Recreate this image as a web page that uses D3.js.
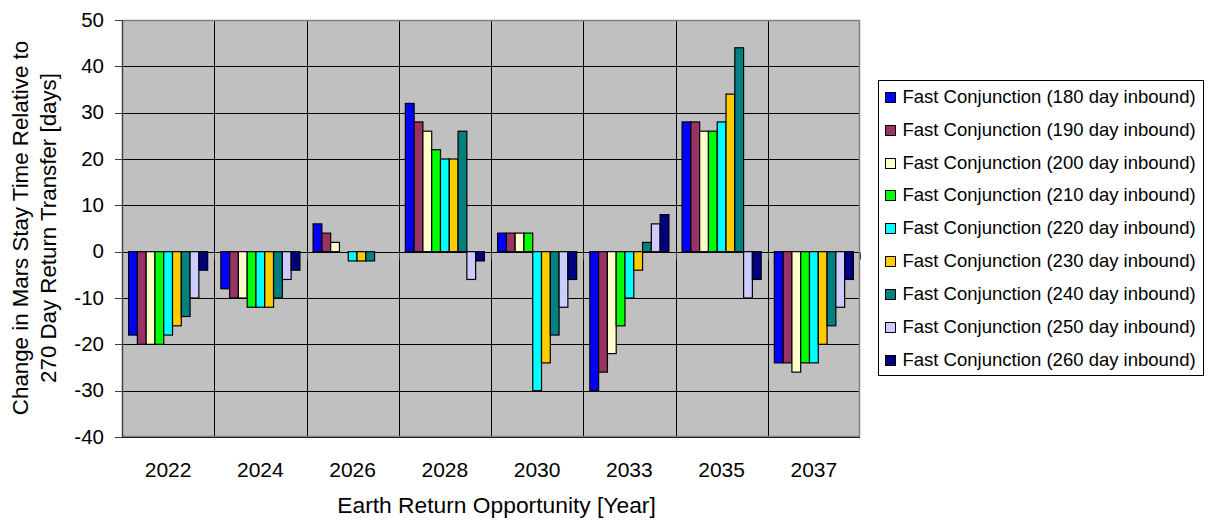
<!DOCTYPE html>
<html>
<head>
<meta charset="utf-8">
<script src="https://cdn.jsdelivr.net/npm/d3@7"></script>
<style>
  html, body { margin: 0; padding: 0; background: #fff; }
  svg { display: block; }
  text { font-family: "Liberation Sans", Arial, sans-serif; fill: #000; }
</style>
</head>
<body>
<svg id="chart" width="1209" height="525"></svg>
<script>
const categories = ["2022", "2024", "2026", "2028", "2030", "2033", "2035", "2037"];
const seriesNames = [
  "Fast Conjunction (180 day inbound)",
  "Fast Conjunction (190 day inbound)",
  "Fast Conjunction (200 day inbound)",
  "Fast Conjunction (210 day inbound)",
  "Fast Conjunction (220 day inbound)",
  "Fast Conjunction (230 day inbound)",
  "Fast Conjunction (240 day inbound)",
  "Fast Conjunction (250 day inbound)",
  "Fast Conjunction (260 day inbound)"
];
const v180 = [-18, -8, 6, 32, 4, -30, 28, -24];
const v190 = [-20, -10, 4, 28, 4, -26, 28, -24];
const v200 = [-20, -10, 2, 26, 4, -22, 26, -26];
const v210 = [-20, -12, 0, 22, 4, -16, 26, -24];
const v220 = [-18, -12, -2, 20, -30, -10, 28, -24];
const v230 = [-16, -12, -2, 20, -24, -4, 34, -20];
const v240 = [-14, -10, -2, 26, -18, 2, 44, -16];
const v250 = [-10, -6, 0, -6, -12, 6, -10, -12];
const v260 = [-4, -4, 0, -2, -6, 8, -6, -6];
const yTicks = [-40, -30, -20, -10, 0, 10, 20, 30, 40, 50];
const colors = ["#0000FF", "#993366", "#FFFFCC", "#00FF00", "#00FFFF", "#FFCC00", "#008080", "#CCCCFF", "#000080"];
const yTitle = ["Change in Mars Stay Time Relative to", "270 Day Return Transfer [days]"];
const xTitle = "Earth Return Opportunity [Year]";

const seriesValues = [v180, v190, v200, v210, v220, v230, v240, v250, v260];

const svg = d3.select("#chart");
const plot = { left: 122, right: 860, top: 20, bottom: 437 };

const x0 = d3.scaleBand().domain(categories).range([plot.left, plot.right]).padding(0);
const x1 = d3.scaleBand().domain(d3.range(seriesNames.length)).range([0, x0.bandwidth()])
  .paddingInner(0).paddingOuter(0.75);
const y = d3.scaleLinear().domain([-40, 50]).range([plot.bottom, plot.top]);

// plot background
svg.append("rect")
  .attr("x", plot.left).attr("y", plot.top)
  .attr("width", plot.right - plot.left).attr("height", plot.bottom - plot.top)
  .attr("fill", "#C0C0C0");

// horizontal gridlines
svg.append("g").selectAll("line").data(yTicks).join("line")
  .attr("x1", plot.left).attr("x2", plot.right)
  .attr("y1", d => Math.round(y(d)) + 0.5).attr("y2", d => Math.round(y(d)) + 0.5)
  .attr("stroke", "#000").attr("stroke-width", 1);

// vertical gridlines at category boundaries
const bounds = categories.slice(1).map(c => x0(c));
svg.append("g").selectAll("line").data(bounds).join("line")
  .attr("x1", d => Math.round(d) + 0.5).attr("x2", d => Math.round(d) + 0.5)
  .attr("y1", plot.top).attr("y2", plot.bottom)
  .attr("stroke", "#000").attr("stroke-width", 1);

// plot border
svg.append("rect")
  .attr("x", plot.left + 0.5).attr("y", plot.top + 0.5)
  .attr("width", plot.right - plot.left - 1).attr("height", plot.bottom - plot.top - 1)
  .attr("fill", "none").attr("stroke", "#808080").attr("stroke-width", 1.5);

// bars
const barData = [];
categories.forEach((c, ci) => {
  seriesValues.forEach((vals, si) => {
    if (vals[ci] !== 0) barData.push({ c, si, v: vals[ci] });
  });
});
svg.append("g").selectAll("rect").data(barData).join("rect")
  .attr("x", d => x0(d.c) + x1(d.si))
  .attr("width", x1.bandwidth())
  .attr("y", d => Math.min(y(0), y(d.v)))
  .attr("height", d => Math.abs(y(d.v) - y(0)))
  .attr("fill", d => colors[d.si])
  .attr("stroke", "#000").attr("stroke-width", 1.2);

// x axis at zero with tick marks at category boundaries
const zeroY = Math.round(y(0)) + 0.5;
const xTickPos = categories.map(c => x0(c)).concat([x0(categories[categories.length - 1]) + x0.bandwidth()]);
svg.append("g").selectAll("line").data(xTickPos).join("line")
  .attr("x1", d => Math.round(d) + 0.5).attr("x2", d => Math.round(d) + 0.5)
  .attr("y1", zeroY).attr("y2", zeroY + 7)
  .attr("stroke", "#404040").attr("stroke-width", 1);

// y axis line + ticks
svg.append("line")
  .attr("x1", plot.left + 0.5).attr("x2", plot.left + 0.5)
  .attr("y1", plot.top).attr("y2", plot.bottom)
  .attr("stroke", "#404040").attr("stroke-width", 1.2);
svg.append("g").selectAll("line").data(yTicks).join("line")
  .attr("x1", plot.left - 7).attr("x2", plot.left)
  .attr("y1", d => Math.round(y(d)) + 0.5).attr("y2", d => Math.round(y(d)) + 0.5)
  .attr("stroke", "#404040").attr("stroke-width", 1);
svg.append("g").selectAll("text").data(yTicks).join("text")
  .attr("x", 104).attr("y", d => y(d))
  .attr("dy", "0.33em")
  .attr("text-anchor", "end")
  .style("font-size", "20.5px")
  .text(d => d);

// x labels
svg.append("g").selectAll("text").data(categories).join("text")
  .attr("x", d => x0(d) + x0.bandwidth() / 2)
  .attr("y", 476.5)
  .attr("text-anchor", "middle")
  .style("font-size", "21px")
  .text(d => d);

// axis titles
svg.append("text")
  .attr("x", 496.5).attr("y", 513)
  .attr("text-anchor", "middle")
  .style("font-size", "22.8px")
  .text(xTitle);

svg.append("g").selectAll("text").data(yTitle).join("text")
  .attr("transform", (d, i) => `translate(${i === 0 ? 28 : 56},228) rotate(-90)`)
  .attr("text-anchor", "middle")
  .style("font-size", "22.3px")
  .text(d => d);

// legend
const legend = svg.append("g");
legend.append("rect")
  .attr("x", 878.5).attr("y", 80.5)
  .attr("width", 325).attr("height", 295)
  .attr("fill", "#fff").attr("stroke", "#000").attr("stroke-width", 1);
const rowY = d3.scaleLinear().domain([0, seriesNames.length - 1]).range([97.5, 360]);
const rows = legend.selectAll("g.row").data(seriesNames).join("g").attr("class", "row");
rows.append("rect")
  .attr("x", 885.5).attr("y", (d, i) => Math.round(rowY(i) - 5.5) + 0.5)
  .attr("width", 10).attr("height", 10)
  .attr("fill", (d, i) => colors[i])
  .attr("stroke", "#000").attr("stroke-width", 1);
rows.append("text")
  .attr("x", 902.5).attr("y", (d, i) => rowY(i) + 5.5)
  .style("font-size", "18.5px")
  .text(d => d);
</script>
</body>
</html>
